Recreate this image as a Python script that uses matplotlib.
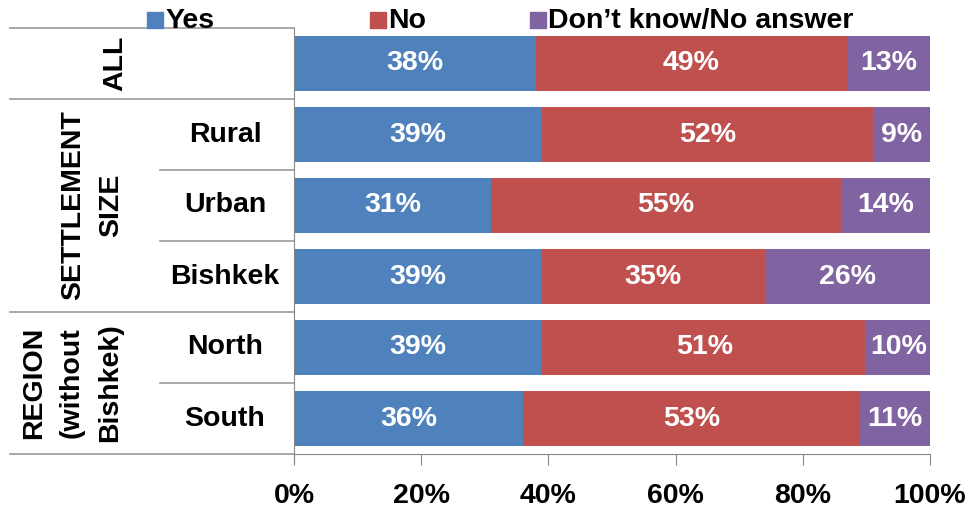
import numpy as np
import matplotlib.pyplot as plt
from matplotlib.transforms import blended_transform_factory

## data
rows = ["", "Rural", "Urban", "Bishkek", "North", "South"]
yes = [38, 39, 31, 39, 39, 36]
no = [49, 52, 55, 35, 51, 53]
dk = [13, 9, 14, 26, 10, 11]
series_names = ["Yes", "No", "Don\u2019t know/No answer"]
colors = ["#4F81BD", "#C0504D", "#8064A2"]
ticks = [0, 20, 40, 60, 80, 100]

plt.rcParams['font.family'] = ['Liberation Sans', 'DejaVu Sans']
plt.rcParams['font.weight'] = 'bold'
fs = 20.5

fig = plt.figure(figsize=(9.68, 5.08), dpi=100)
ax = fig.add_axes([294/968, 1-454/508, 636/968, 426/508])

y = np.arange(len(rows))
left = np.zeros(len(rows))
for vals, c in zip([yes, no, dk], colors):
    vals = np.array(vals)
    ax.barh(y, vals, left=left, height=0.78, color=c, edgecolor='none')
    for yi, l, v in zip(y, left, vals):
        ax.text(l + v/2, yi, "%d%%" % v, ha='center', va='center',
                color='white', fontsize=fs, fontweight='bold')
    left = left + vals

ax.set_xlim(0, 100)
ax.set_ylim(5.5, -0.5)
ax.set_xticks(ticks)
ax.set_xticklabels(["%d%%" % t for t in ticks], fontsize=fs, fontweight='bold')
ax.set_yticks([])
ax.tick_params(axis='x', length=8, color='#888888', pad=13)
for s in ['top', 'right']:
    ax.spines[s].set_visible(False)
ax.spines['left'].set_color('#888888')
ax.spines['bottom'].set_color('#888888')
ax.spines['left'].set_bounds(5.62, -0.5)

## left category table
tr = blended_transform_factory(ax.transAxes, ax.transData)
x_far = (10 - 294) / 636
x_near = (160 - 294) / 636
for b in [-0.5, 0.5, 3.5, 5.5]:
    ax.plot([x_far, 0], [b, b], color='#999999', lw=1.2, transform=tr, clip_on=False)
for b in [1.5, 2.5, 4.5]:
    ax.plot([x_near, 0], [b, b], color='#999999', lw=1.2, transform=tr, clip_on=False)

x_sub = (225 - 294) / 636
for yi, r in zip(y, rows):
    ax.text(x_sub, yi, r, ha='center', va='center', fontsize=fs,
            fontweight='bold', transform=tr)

ax.text((115 - 294) / 636, 0, "ALL", rotation=90, ha='center', va='center',
        fontsize=fs, fontweight='bold', transform=tr)
ax.text((92 - 294) / 636, 2, "SETTLEMENT\nSIZE", rotation=90, ha='center',
        va='center', fontsize=fs, fontweight='bold', transform=tr,
        linespacing=1.6, multialignment='center')
ax.text((72 - 294) / 636, 4.5, "REGION\n(without\nBishkek)", rotation=90,
        ha='center', va='center', fontsize=fs, fontweight='bold', transform=tr,
        linespacing=1.6, multialignment='center')

## legend along the top
leg_x = [147, 370, 530]
for lx, name, c in zip(leg_x, series_names, colors):
    fig.patches.append(plt.Rectangle((lx/968, 1-28/508), 16/968, 16/508,
                                     color=c, transform=fig.transFigure))
    fig.text((lx + 18)/968, 1-21/508, name, ha='left', va='center',
             fontsize=fs, fontweight='bold')

fig.savefig("out.png", dpi=100)
